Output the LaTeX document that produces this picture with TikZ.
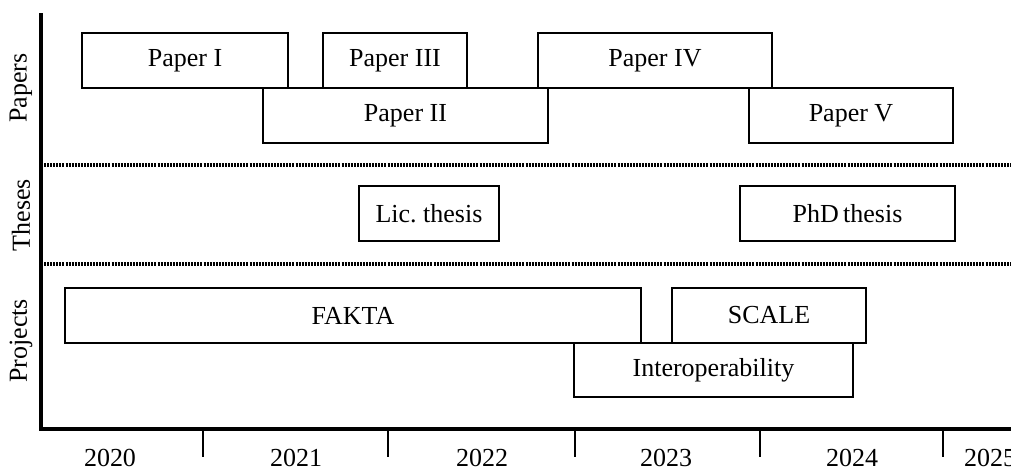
\documentclass[tikz,border=0pt]{standalone}
\usepackage{fontspec}
\setmainfont{Liberation Serif}
\usetikzlibrary{fit}
\begin{document}
\begin{tikzpicture}[x=0.75pt,y=-0.75pt,
  every node/.style={font=\fontsize{19.5pt}{23pt}\selectfont},
  bar/.style={draw, line width=1.5pt, inner sep=0pt, outer sep=0pt},
  axis/.style={line width=2.4pt},
  sep/.style={line width=2.3pt, dash pattern=on 1.5pt off 0.8pt},
  tick/.style={line width=0.8pt},
  side/.style={rotate=90, inner sep=0pt},
  year/.style={anchor=base, inner sep=0pt}]
\useasboundingbox (0,0) rectangle (1011,471);

% axes
\coordinate (top) at (41,13);
\coordinate (origin) at (41,429);
\coordinate (xend) at (1011,429);
\draw[axis] (top) -- (origin) -- (xend);

% section separators
\coordinate (s1a) at (41,165);  \coordinate (s1b) at (1011,165);
\coordinate (s2a) at (41,264);  \coordinate (s2b) at (1011,264);
\draw[sep] (s1a) -- (s1b);
\draw[sep] (s2a) -- (s2b);

% year ticks and labels
\foreach \x in {203,388,575,760,943}
  \draw[tick] (\x,429) -- (\x,457);
\node[year] (y20) at (110,466) {2020};
\node[year] (y21) at (296,466) {2021};
\node[year] (y22) at (482,466) {2022};
\node[year] (y23) at (666,466) {2023};
\node[year] (y24) at (852,466) {2024};
\node[year] (y25) at (990,466) {2025};

% row labels
\node[side] (lpapers) at (21,88) {Papers};
\node[side] (ltheses) at (21,215) {Theses};
\node[side] (lprojects) at (21,341) {Projects};

% papers
\node[bar, fit={(82,33) (288,88)}, label=center:Paper I] (p1) {};
\node[bar, fit={(323,33) (467,88)}, label=center:Paper III] (p3) {};
\node[bar, fit={(538,33) (772,88)}, label=center:Paper IV] (p4) {};
\node[bar, fit={(263,88) (548,143)}, label=center:Paper II] (p2) {};
\node[bar, fit={(749,88) (953,143)}, label=center:Paper V] (p5) {};

% theses
\node[bar, fit={(359,186) (499,241)}, label={center:Lic.\ thesis}] (lic) {};
\node[bar, fit={(740,186) (955,241)}, label=center:PhD\,thesis] (phd) {};

% projects
\node[bar, fit={(65,288) (641,343)}, label=center:FAKTA] (fakta) {};
\node[bar, fit={(672,288) (866,343)}, label=center:SCALE] (scale) {};
\node[bar, fit={(574,343) (853,397)}, label=center:Interoperability] (interop) {};
\end{tikzpicture}
\end{document}
